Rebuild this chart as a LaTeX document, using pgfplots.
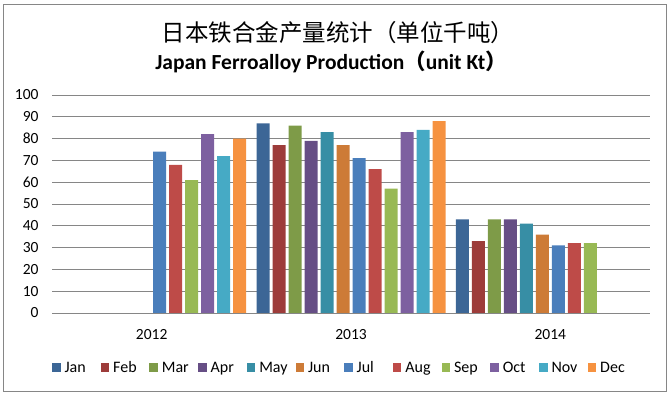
\documentclass[border=0pt]{standalone}
\usepackage{pgfplots}
\pgfplotsset{compat=1.18}
\usepackage{fontspec}
\setmainfont{Carlito}
\newfontfamily\cjk{Noto Sans CJK SC}
\definecolor{cJan}{HTML}{3C6696}
\definecolor{cFeb}{HTML}{9D3C3A}
\definecolor{cMar}{HTML}{7E9B48}
\definecolor{cApr}{HTML}{664E85}
\definecolor{cMay}{HTML}{378EA5}
\definecolor{cJun}{HTML}{CD7B37}
\definecolor{cJul}{HTML}{4A7EBB}
\definecolor{cAug}{HTML}{BE4B48}
\definecolor{cSep}{HTML}{98B954}
\definecolor{cOct}{HTML}{7D60A0}
\definecolor{cNov}{HTML}{46AAC5}
\definecolor{cDec}{HTML}{F69240}
\definecolor{cGrid}{HTML}{868686}
\newcommand{\legtxt}[1]{\makebox[35.2pt][l]{#1}}
\begin{document}
\begin{tikzpicture}[x=1pt,y=1pt]
\useasboundingbox (0,0) rectangle (671,398);
\draw[color=cGrid, line width=1pt] (3.5,6) rectangle (666,393);
\node[font=\cjk\fontsize{23.5}{26}\selectfont] at (338,365) {日本铁合金产量统计（单位千吨）};
\node[font=\bfseries\fontsize{21.5}{24}\selectfont] at (331,336) {Japan Ferroalloy Production{\cjk（}unit Kt{\cjk）}};
\begin{axis}[
  at={(151.67pt,85pt)}, anchor=origin,
  scale only axis, width=598pt, height=218pt,
  ymin=0, ymax=100, xmin=-0.5, xmax=2.5,
  ytick={0,10,...,100}, xtick={0,1,2}, xticklabels={2012,2013,2014},
  ybar=3pt, bar width=13pt,
  axis x line*=bottom, axis y line*=left,
  x axis line style={color=cGrid, line width=0.8pt},
  y axis line style={draw=none},
  major tick length=0pt,
  ymajorgrids, grid style={color=cGrid, line width=0.8pt},
  tick label style={font=\fontsize{15.5}{17}\selectfont},
  /pgf/number format/assume math mode=true,
  yticklabel style={xshift=-10pt},
  xticklabel style={yshift=-13pt},
  legend columns=12,
  legend style={at={(0,-0.252)}, anchor=west, draw=none, fill=none,
    inner sep=0pt, outer sep=0pt,
    font=\fontsize{16}{18}\selectfont,
    nodes={inner xsep=1pt},
    /tikz/every odd column/.append style={column sep=3pt}},
  legend image code/.code={\fill[#1] (0pt,-4.5pt) rectangle (8.5pt,4.5pt);},
  every axis plot/.append style={draw=none},
]
\addplot[fill=cJan] coordinates {(1,87) (2,43)};
\addplot[fill=cFeb] coordinates {(1,77) (2,33)};
\addplot[fill=cMar] coordinates {(1,86) (2,43)};
\addplot[fill=cApr] coordinates {(1,79) (2,43)};
\addplot[fill=cMay] coordinates {(1,83) (2,41)};
\addplot[fill=cJun] coordinates {(1,77) (2,36)};
\addplot[fill=cJul] coordinates {(0,74) (1,71) (2,31)};
\addplot[fill=cAug] coordinates {(0,68) (1,66) (2,32)};
\addplot[fill=cSep] coordinates {(0,61) (1,57) (2,32)};
\addplot[fill=cOct] coordinates {(0,82) (1,83)};
\addplot[fill=cNov] coordinates {(0,72) (1,84)};
\addplot[fill=cDec] coordinates {(0,80) (1,88)};
\legend{\legtxt{Jan},\legtxt{Feb},\legtxt{Mar},\legtxt{Apr},\legtxt{May},\legtxt{Jun},\legtxt{Jul},\legtxt{Aug},\legtxt{Sep},\legtxt{Oct},\legtxt{Nov},\legtxt{Dec}}
\end{axis}
\end{tikzpicture}
\end{document}
